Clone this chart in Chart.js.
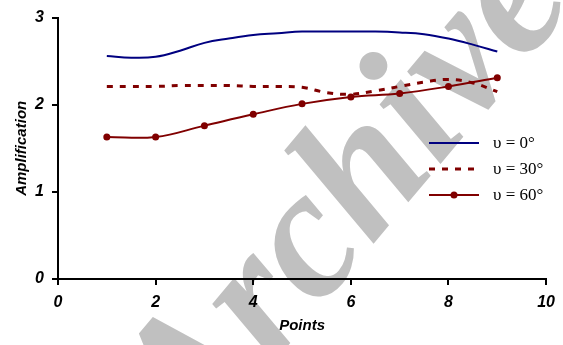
<!DOCTYPE html>
<html>
<head>
<meta charset="utf-8">
<script src="https://cdn.jsdelivr.net/npm/chart.js@4"></script>
<style>
  html, body { margin: 0; padding: 0; background: #fff; }
  #wrap { width: 563px; height: 345px; position: relative; }
</style>
</head>
<body>
<div id="wrap"><canvas id="chart"></canvas></div>
<script>
// -------- Data --------
const seriesLabels = ["\u03c5 = 0\u00b0", "\u03c5 = 30\u00b0", "\u03c5 = 60\u00b0"];
const xFine = [1, 1.5, 2, 2.5, 3, 3.5, 4, 4.5, 5, 5.5, 6, 6.5, 7, 7.5, 8, 8.5, 9];
const amp0  = [2.56, 2.54, 2.55, 2.62, 2.71, 2.76, 2.80, 2.82, 2.84, 2.84, 2.84, 2.84, 2.83, 2.81, 2.76, 2.69, 2.61];
const amp30 = [2.21, 2.21, 2.21, 2.22, 2.22, 2.22, 2.21, 2.21, 2.20, 2.14, 2.12, 2.16, 2.21, 2.26, 2.29, 2.25, 2.15];
const xPoints = [1, 2, 3, 4, 5, 6, 7, 8, 9];
const amp60 = [1.63, 1.63, 1.76, 1.89, 2.01, 2.09, 2.13, 2.21, 2.31];
const xTicks = [0, 2, 4, 6, 8, 10];
const yTicks = [0, 1, 2, 3];

const pairs = (xs, ys) => xs.map((x, i) => ({x, y: ys[i]}));

const navy = "#000080", maroon = "#800000";
const tickFont = {family: "'Liberation Sans', Arial, sans-serif", size: 16, weight: "bold", style: "italic"};
const titleFont = {family: "'Liberation Sans', Arial, sans-serif", size: 15, weight: "bold", style: "italic"};

// -------- Watermark (behind everything) --------
const watermark = {
  id: "watermark",
  beforeDraw(chart) {
    const ctx = chart.ctx;
    ctx.save();
    ctx.translate(193, 459);
    ctx.rotate(-50 * Math.PI / 180);
    ctx.font = "bold italic 185px 'Liberation Serif', serif";
    ctx.fillStyle = "#c0c0c0";
    ctx.textAlign = "left";
    ctx.fillText("Archive", 0, 0);
    ctx.restore();
  }
};

// -------- Legend drawn by hand (line samples + serif text) --------
const lineLegend = {
  id: "lineLegend",
  afterDraw(chart) {
    const ctx = chart.ctx;
    chart.data.datasets.forEach((ds, i) => {
      const y = 143 + i * 26;
      ctx.save();
      ctx.strokeStyle = ds.borderColor;
      ctx.lineWidth = ds.borderWidth;
      ctx.setLineDash(ds.borderDash || []);
      ctx.beginPath();
      ctx.moveTo(429, y);
      ctx.lineTo(479, y);
      ctx.stroke();
      if (ds.pointRadius > 0) {
        ctx.setLineDash([]);
        ctx.fillStyle = ds.pointBackgroundColor;
        ctx.beginPath();
        ctx.arc(454, y, ds.pointRadius, 0, Math.PI * 2);
        ctx.fill();
      }
      ctx.fillStyle = "#000";
      ctx.font = "17px 'Liberation Serif', 'Times New Roman', serif";
      ctx.textBaseline = "middle";
      ctx.fillText(ds.label, 493, y + 1);
      ctx.restore();
    });
  }
};

new Chart(document.getElementById("chart"), {
  type: "line",
  data: {
    datasets: [
      {label: seriesLabels[0], data: pairs(xFine, amp0), borderColor: navy, borderWidth: 2,
       pointRadius: 0, tension: 0.4, fill: false},
      {label: seriesLabels[1], data: pairs(xFine, amp30), borderColor: maroon, borderWidth: 3,
       borderDash: [6, 7], pointRadius: 0, tension: 0.4, fill: false},
      {label: seriesLabels[2], data: pairs(xPoints, amp60), borderColor: maroon, borderWidth: 2,
       pointRadius: 3.5, pointBackgroundColor: maroon, pointBorderWidth: 0, tension: 0.4, fill: false}
    ]
  },
  options: {
    responsive: true,
    maintainAspectRatio: false,
    animation: false,
    layout: {padding: {top: 16, right: 10, left: 0, bottom: 0}},
    plugins: {legend: {display: false}, tooltip: {enabled: false}},
    scales: {
      x: {
        type: "linear", min: 0, max: 10,
        afterBuildTicks: s => { s.ticks = xTicks.map(v => ({value: v})); },
        afterFit: s => { s.height = 66; },
        border: {display: true, color: "#000", width: 2},
        grid: {display: true, drawOnChartArea: false, drawTicks: true, tickLength: 6, color: "#000", lineWidth: 2},
        ticks: {color: "#000", font: tickFont, padding: 8, maxRotation: 0},
        title: {display: true, text: "Points", color: "#000", font: titleFont, padding: {top: 0, bottom: 10}}
      },
      y: {
        type: "linear", min: 0, max: 3,
        afterBuildTicks: s => { s.ticks = yTicks.map(v => ({value: v})); },
        afterFit: s => { s.width = 58; },
        border: {display: true, color: "#000", width: 2},
        grid: {display: true, drawOnChartArea: false, drawTicks: true, tickLength: 6, color: "#000", lineWidth: 2},
        ticks: {color: "#000", font: tickFont, padding: 8},
        title: {display: true, text: "Amplification", color: "#000", font: titleFont, padding: {top: 13, bottom: 0}}
      }
    }
  },
  plugins: [watermark, lineLegend]
});
</script>
</body>
</html>
